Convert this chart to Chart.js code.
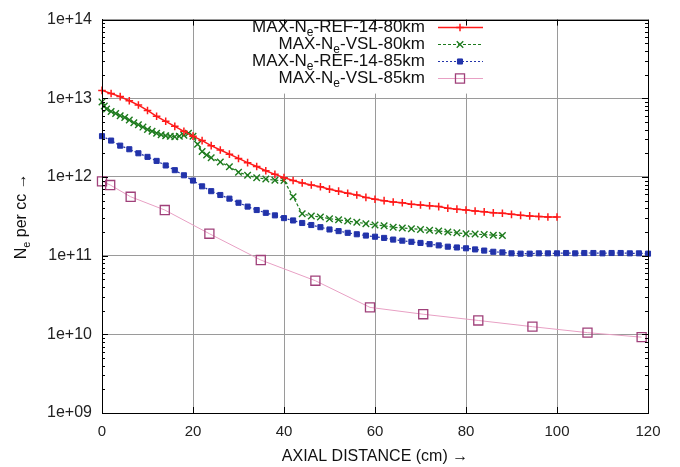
<!DOCTYPE html>
<html><head><meta charset="utf-8">
<script src="https://cdn.jsdelivr.net/npm/chart.js@4/dist/chart.umd.min.js"></script>
<style>html,body{margin:0;padding:0;background:#fff}canvas{display:block}</style>
</head><body>
<canvas id="c" width="680" height="467"></canvas>
<script>
// ---- data ----
const seriesLabels = ['MAX-Nₑ-REF-14-80km', 'MAX-Nₑ-VSL-80km', 'MAX-Nₑ-REF-14-85km', 'MAX-Nₑ-VSL-85km'];
const xTitle = 'AXIAL DISTANCE (cm) →';
const yTitle = 'Nₑ per cc →';
const xTickValues = [0, 20, 40, 60, 80, 100, 120];
const yTickValues = [1e9, 1e10, 1e11, 1e12, 1e13, 1e14];
const yTickLabels = ['1e+09', '1e+10', '1e+11', '1e+12', '1e+13', '1e+14'];

const ref80X = [0,2,4,6,8,10,12,14,16,18,20,22,24,26,28,30,32,34,36,38,40,42,44,46,48,50,52,54,56,58,60,62,64,66,68,70,72,74,76,78,80,82,84,86,88,90,92,94,96,98,100];
const ref80Y = [1.26e13,1.15e13,1.05e13,9.3e12,8.2e12,7.0e12,5.9e12,5.1e12,4.4e12,3.8e12,3.3e12,2.9e12,2.5e12,2.2e12,1.95e12,1.72e12,1.52e12,1.36e12,1.2e12,1.08e12,9.8e11,9.0e11,8.4e11,7.9e11,7.5e11,7.0e11,6.6e11,6.2e11,5.9e11,5.5e11,5.2e11,5.0e11,4.8e11,4.7e11,4.5e11,4.4e11,4.3e11,4.2e11,4.0e11,3.9e11,3.8e11,3.7e11,3.6e11,3.5e11,3.45e11,3.35e11,3.25e11,3.2e11,3.15e11,3.1e11,3.1e11];

const vsl80X = [0,0.5,1,2,3,4,5,6,7,8,9,10,11,12,13,14,15,16,17,18,19,20,21,22,23,24,26,28,30,32,34,36,38,40,42,44,46,48,50,52,54,56,58,60,62,64,66,68,70,72,74,76,78,80,82,84,86,88];
const vsl80Y = [9.0e12,8.0e12,7.3e12,6.8e12,6.4e12,6.0e12,5.7e12,5.3e12,4.9e12,4.6e12,4.3e12,4.0e12,3.8e12,3.6e12,3.45e12,3.35e12,3.3e12,3.25e12,3.3e12,3.4e12,3.6e12,3.3e12,2.6e12,2.1e12,1.9e12,1.75e12,1.55e12,1.35e12,1.15e12,1.05e12,9.8e11,9.4e11,9.1e11,9.0e11,5.6e11,3.4e11,3.2e11,3.1e11,2.95e11,2.85e11,2.75e11,2.65e11,2.55e11,2.45e11,2.4e11,2.3e11,2.25e11,2.2e11,2.15e11,2.1e11,2.05e11,2.0e11,1.95e11,1.9e11,1.88e11,1.85e11,1.82e11,1.8e11];

const ref85X = [0,2,4,6,8,10,12,14,16,18,20,22,24,26,28,30,32,34,36,38,40,42,44,46,48,50,52,54,56,58,60,62,64,66,68,70,72,74,76,78,80,82,84,86,88,90,92,94,96,98,100,102,104,106,108,110,112,114,116,118,120];
const ref85Y = [3.3e12,2.9e12,2.5e12,2.25e12,2.0e12,1.8e12,1.6e12,1.4e12,1.22e12,1.05e12,9.0e11,7.6e11,6.6e11,5.9e11,5.3e11,4.7e11,4.2e11,3.8e11,3.5e11,3.25e11,3.0e11,2.8e11,2.6e11,2.45e11,2.3e11,2.15e11,2.05e11,1.95e11,1.87e11,1.8e11,1.74e11,1.68e11,1.6e11,1.55e11,1.5e11,1.45e11,1.4e11,1.35e11,1.3e11,1.27e11,1.24e11,1.2e11,1.16e11,1.12e11,1.1e11,1.07e11,1.06e11,1.06e11,1.07e11,1.07e11,1.07e11,1.08e11,1.07e11,1.08e11,1.08e11,1.07e11,1.08e11,1.08e11,1.07e11,1.07e11,1.06e11];

const vsl85X = [0,1.8,6.3,13.8,23.6,34.9,46.9,58.9,70.6,82.7,94.6,106.7,118.6];
const vsl85Y = [8.8e11,7.9e11,5.6e11,3.8e11,1.9e11,8.8e10,4.8e10,2.2e10,1.8e10,1.5e10,1.25e10,1.05e10,9.2e9];

// ---- helpers ----
const FONT = "'Liberation Sans', Arial, Helvetica, sans-serif";
const pts = (xs, ys) => xs.map((x, i) => ({x: x, y: ys[i]}));

const styles = [
  {color:'#ff1a1a', line:'#ff1a1a', dash:[], ps:'cross', r:3.8, bw:1.5, fill:'#ff1a1a', lw:1.5},
  {color:'#1e7b1e', line:'#1e7b1e', dash:[3,2], ps:'crossRot', r:4.6, bw:1.4, fill:'#1e7b1e', lw:1.2},
  {color:'#2233aa', line:'#2233aa', dash:[2,2], ps:'rect', r:3.6, bw:1, fill:'#2233aa', lw:1.2},
  {color:'#a0407a', line:'#e8a0c4', dash:[], ps:'rect', r:6.4, bw:1.3, fill:'rgba(255,255,255,0)', lw:1}
];
const seriesData = [pts(ref80X, ref80Y), pts(vsl80X, vsl80Y), pts(ref85X, ref85Y), pts(vsl85X, vsl85Y)];

const datasets = seriesData.map((d, i) => ({
  label: seriesLabels[i],
  data: d,
  borderColor: styles[i].line,
  borderWidth: styles[i].lw,
  borderDash: styles[i].dash,
  pointStyle: styles[i].ps,
  pointRadius: styles[i].r,
  pointBorderColor: styles[i].color,
  pointBackgroundColor: styles[i].fill,
  pointBorderWidth: styles[i].bw,
  tension: 0,
  fill: false,
  clip: false
}));

function drawSubText(ctx, text, x, y, size) {
  const parts = text.split('ₑ');
  let cx = x;
  parts.forEach((p, idx) => {
    ctx.font = size + 'px ' + FONT;
    ctx.fillText(p, cx, y);
    cx += ctx.measureText(p).width;
    if (idx < parts.length - 1) {
      ctx.font = Math.round(size * 0.7) + 'px ' + FONT;
      ctx.fillText('e', cx, y + size * 0.32);
      cx += ctx.measureText('e').width;
    }
  });
  return cx - x;
}
function measureSubText(ctx, text, size) {
  const parts = text.split('ₑ');
  let w = 0;
  parts.forEach((p, idx) => {
    ctx.font = size + 'px ' + FONT;
    w += ctx.measureText(p).width;
    if (idx < parts.length - 1) {
      ctx.font = Math.round(size * 0.7) + 'px ' + FONT;
      w += ctx.measureText('e').width;
    }
  });
  return w;
}

const decor = {
  id: 'decor',
  beforeDatasetsDraw(chart) {
    const ctx = chart.ctx;
    ctx.save();
    ctx.fillStyle = '#fff';
    ctx.fillRect(242, chart.chartArea.top + 1, 253, 73);
    ctx.restore();
  },
  afterDatasetsDraw(chart) {
    const ctx = chart.ctx;
    const a = chart.chartArea;
    const xs = chart.scales.x, ys = chart.scales.y;
    ctx.save();
    ctx.strokeStyle = '#000';
    ctx.lineWidth = 1;
    ctx.strokeRect(Math.round(a.left) + 0.5, Math.round(a.top) + 0.5, Math.round(a.right - a.left), Math.round(a.bottom - a.top));
    ctx.beginPath();
    xTickValues.forEach(v => {
      const px = Math.round(xs.getPixelForValue(v)) + 0.5;
      ctx.moveTo(px, a.bottom); ctx.lineTo(px, a.bottom - 6);
      ctx.moveTo(px, a.top); ctx.lineTo(px, a.top + 6);
    });
    for (let e = 9; e <= 14; e++) {
      for (let m = 1; m <= 9; m++) {
        const v = m * Math.pow(10, e);
        if (v > 1e14) break;
        const py = Math.round(ys.getPixelForValue(v)) + 0.5;
        const len = m === 1 ? 6 : 3;
        ctx.moveTo(a.left, py); ctx.lineTo(a.left + len, py);
        ctx.moveTo(a.right, py); ctx.lineTo(a.right - len, py);
      }
    }
    ctx.stroke();

    // legend (gnuplot-style key: text right-aligned, sample on the right)
    const rows = [27, 44, 61, 78];
    const textRight = 425, lx0 = 438, lx1 = 483, mx = 460;
    chart.data.datasets.forEach((ds, i) => {
      const y = rows[i];
      const size = 17;
      ctx.fillStyle = '#111';
      ctx.textBaseline = 'middle';
      ctx.textAlign = 'left';
      const w = measureSubText(ctx, ds.label, size);
      drawSubText(ctx, ds.label, textRight - w, y, size);
      ctx.strokeStyle = ds.borderColor;
      ctx.lineWidth = ds.borderWidth;
      ctx.setLineDash(ds.borderDash);
      ctx.beginPath(); ctx.moveTo(lx0, y + 0.5); ctx.lineTo(lx1, y + 0.5); ctx.stroke();
      ctx.setLineDash([]);
      ctx.fillStyle = ds.pointBackgroundColor;
      ctx.strokeStyle = ds.pointBorderColor;
      ctx.lineWidth = ds.pointBorderWidth;
      Chart.helpers.drawPoint(ctx, {pointStyle: ds.pointStyle, radius: ds.pointRadius, borderWidth: ds.pointBorderWidth, rotation: 0}, mx, y + 0.5);
    });

    // y title with subscript
    ctx.save();
    ctx.translate(22, (a.top + a.bottom) / 2);
    ctx.rotate(-Math.PI / 2);
    ctx.fillStyle = '#111';
    ctx.textBaseline = 'middle';
    const tw = measureSubText(ctx, yTitle, 16);
    drawSubText(ctx, yTitle, -tw / 2, 0, 16);
    ctx.restore();
    ctx.restore();
  }
};

new Chart(document.getElementById('c'), {
  type: 'line',
  data: { datasets: datasets },
  options: {
    responsive: false,
    animation: false,
    layout: { padding: { left: 0, right: 32, top: 15, bottom: 0 } },
    plugins: { legend: { display: false }, tooltip: { enabled: false } },
    scales: {
      x: {
        type: 'linear', min: 0, max: 120,
        afterBuildTicks: s => { s.ticks = xTickValues.map(v => ({value: v})); },
        afterFit: s => { s.height = 54; },
        ticks: { autoSkip: false, maxRotation: 0, padding: 10, color: '#222', font: { family: FONT, size: 15 }, callback: v => String(v) },
        grid: { color: '#9a9a9a', lineWidth: 1, drawTicks: false },
        border: { display: true, color: '#000', width: 1 },
        title: { display: true, text: xTitle, color: '#111', font: { family: FONT, size: 16 }, padding: { top: 0, bottom: 1 } }
      },
      y: {
        type: 'logarithmic', min: 1e9, max: 1e14,
        afterBuildTicks: s => { s.ticks = yTickValues.map(v => ({value: v})); },
        afterFit: s => { s.width = 102; },
        ticks: { autoSkip: false, padding: 10, color: '#222', font: { family: FONT, size: 16 }, callback: (v, i) => yTickLabels[i] },
        grid: { color: '#9a9a9a', lineWidth: 1, drawTicks: false },
        border: { display: true, color: '#000', width: 1 }
      }
    }
  },
  plugins: [decor]
});
</script>
</body></html>
